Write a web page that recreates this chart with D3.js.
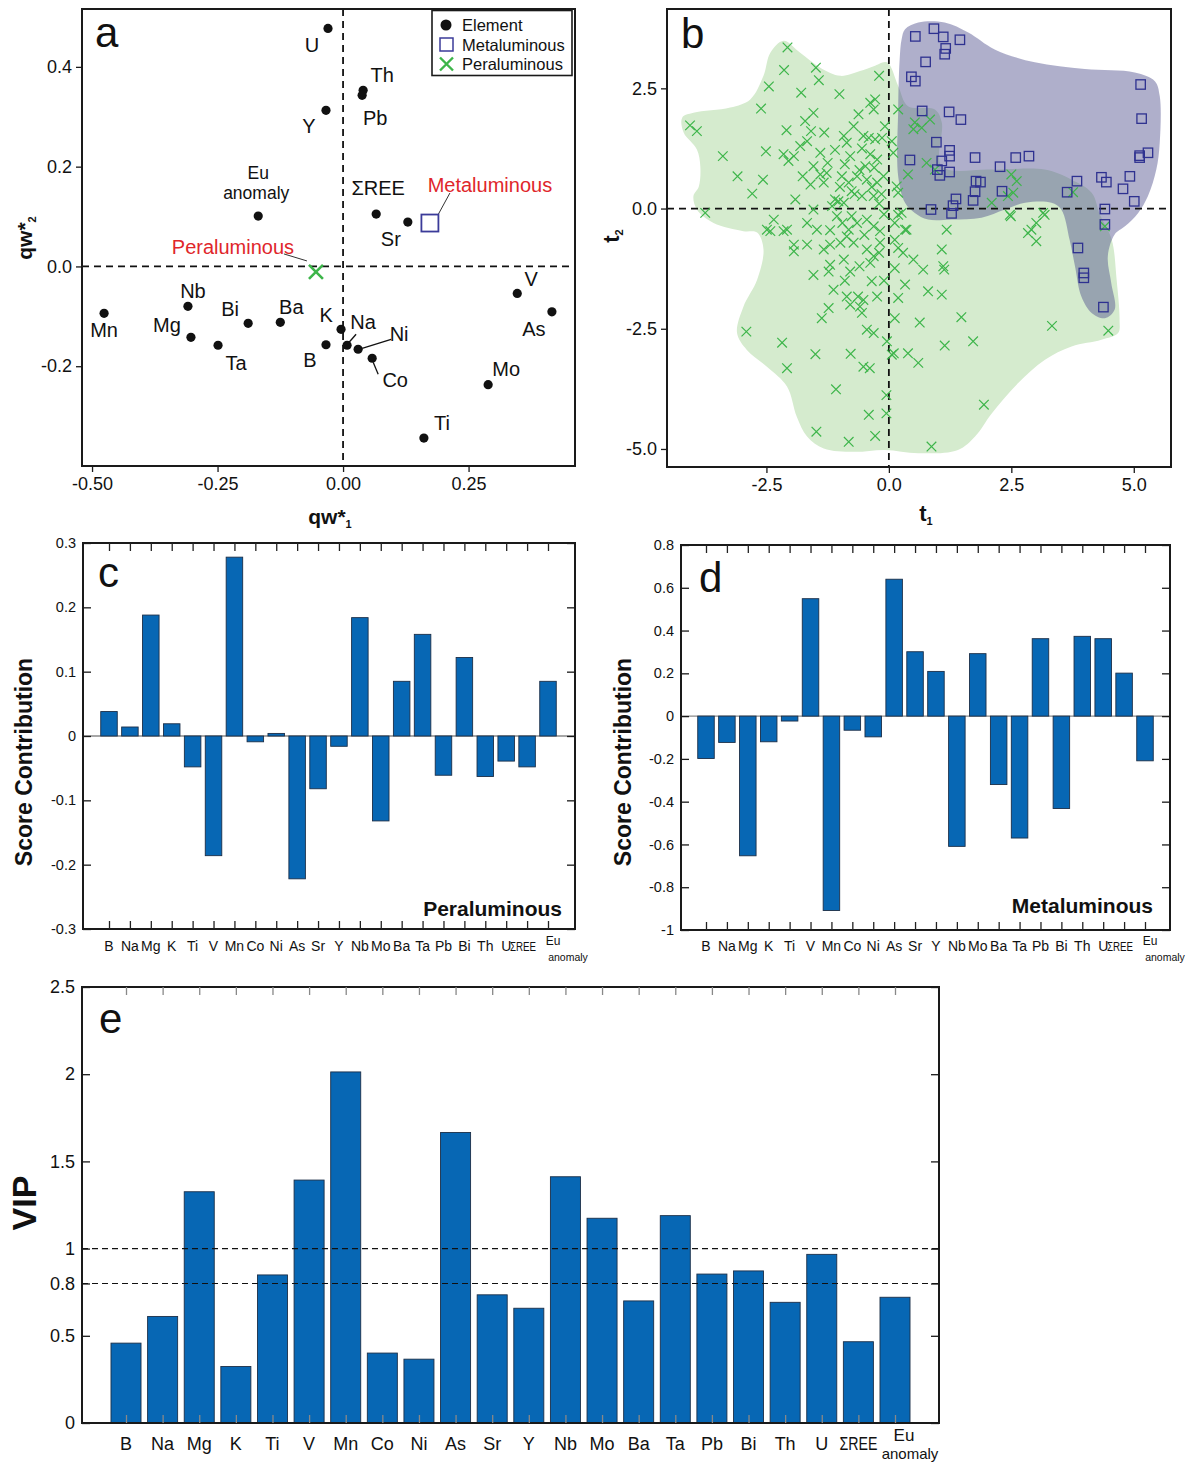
<!DOCTYPE html>
<html><head><meta charset="utf-8">
<script src="https://cdn.jsdelivr.net/npm/d3@7"></script>
<style>body{margin:0;background:#fff}svg{display:block}text{font-family:"Liberation Sans",Arial,Helvetica,sans-serif}</style>
</head><body><svg id="chart" width="1193" height="1462"></svg>
<script>
// ---------------- DATA ----------------
const elements = ["B","Na","Mg","K","Ti","V","Mn","Co","Ni","As","Sr","Y","Nb","Mo","Ba","Ta","Pb","Bi","Th","U","ΣREE","Eu anomaly"];
const peraluminousContribution = [0.038,0.014,0.188,0.019,-0.048,-0.186,0.278,-0.009,0.004,-0.222,-0.082,-0.016,0.184,-0.132,0.085,0.158,-0.061,0.122,-0.063,-0.039,-0.048,0.085];
const metaluminousContribution = [-0.198,-0.123,-0.653,-0.12,-0.023,0.549,-0.909,-0.066,-0.097,0.64,0.301,0.209,-0.609,0.292,-0.32,-0.57,0.362,-0.432,0.373,0.362,0.201,-0.209];
const vipValues = [0.458,0.611,1.326,0.324,0.849,1.393,2.013,0.401,0.366,1.666,0.735,0.658,1.412,1.174,0.70,1.189,0.854,0.872,0.692,0.967,0.466,0.721];
const vipThresholds = [1, 0.8];

// panel a: loadings
const loadingNames = ["U","Th","Pb","Y","Eu anomaly","ΣREE","Sr","V","As","Mn","Nb","Mg","Bi","Ba","K","Ta","B","Na","Ni","Co","Mo","Ti"];
const loadingQw1 = [-0.030,0.040,0.038,-0.034,-0.169,0.066,0.129,0.347,0.416,-0.476,-0.309,-0.303,-0.189,-0.125,-0.004,-0.249,-0.034,0.008,0.030,0.058,0.289,0.161];
const loadingQw2 = [0.477,0.353,0.343,0.313,0.101,0.105,0.089,-0.054,-0.091,-0.094,-0.080,-0.142,-0.114,-0.112,-0.126,-0.158,-0.157,-0.158,-0.166,-0.184,-0.237,-0.344];
const groupNames = ["Metaluminous","Peraluminous"];
const groupQw1 = [0.173,-0.054];
const groupQw2 = [0.087,-0.011];

// tick values / labels
const aXTicks = [-0.5,-0.25,0,0.25], aXTickLabels = ["-0.50","-0.25","0.00","0.25"];
const aYTicks = [0.4,0.2,0,-0.2], aYTickLabels = ["0.4","0.2","0.0","-0.2"];
const bXTicks = [-2.5,0,2.5,5], bXTickLabels = ["-2.5","0.0","2.5","5.0"];
const bYTicks = [2.5,0,-2.5,-5], bYTickLabels = ["2.5","0.0","-2.5","-5.0"];
const cYTicks = [0.3,0.2,0.1,0,-0.1,-0.2,-0.3], cYTickLabels = ["0.3","0.2","0.1","0","-0.1","-0.2","-0.3"];
const dYTicks = [0.8,0.6,0.4,0.2,0,-0.2,-0.4,-0.6,-0.8,-1], dYTickLabels = ["0.8","0.6","0.4","0.2","0","-0.2","-0.4","-0.6","-0.8","-1"];
const eYTicks = [0,0.5,0.8,1,1.5,2,2.5], eYTickLabels = ["0","0.5","0.8","1","1.5","2","2.5"];

// panel b: scores (t1, t2)
const peraluminousScores = [
[-2.07,3.35],[-2.14,2.88],[-1.49,2.93],[-1.43,2.67],[-2.45,2.54],[-1.79,2.41],[-1.01,2.38],[-0.20,2.76],[-2.61,2.08],[-4.06,1.73],[-3.92,1.61],[-3.39,1.09],[-3.09,0.67],[-2.79,0.31],[-3.75,-0.09],[-2.09,1.63],[-2.51,1.19],[-2.57,0.60],[-1.91,0.19],[-1.54,1.99],[-1.71,1.82],[-1.59,1.61],[-1.32,1.58],[-1.67,1.40],[-1.81,1.30],[-2.15,1.13],[-2.05,0.99],[-1.94,1.09],[-1.40,1.16],[-1.54,0.88],[-1.76,0.67],[-1.40,0.71],[-1.27,0.74],[-1.33,0.54],[-0.92,1.51],[-0.86,1.37],[-0.62,1.96],[-0.72,1.71],[-0.38,2.20],[-0.28,2.27],[-0.31,2.06],[-0.08,1.71],[-0.52,1.51],[-0.41,1.47],[-0.28,1.44],[-0.14,1.47],[-0.38,1.13],[-0.24,1.02],[-0.48,0.88],[-0.79,1.09],[-0.96,0.67],[-0.82,0.54],[-0.65,0.67],[-0.45,0.60],[-0.24,0.54],[-0.11,0.67],[-1.10,0.19],[-1.03,0.15],[-0.92,0.12],[-1.16,0.05],[-0.76,0.36],[-0.55,0.26],[-0.31,0.26],[-1.54,-0.02],[-2.35,-0.23],[-2.49,-0.44],[-2.08,-0.44],[-1.67,-0.30],[-1.47,-0.44],[-0.76,-0.16],[-0.65,-0.30],[-0.45,-0.23],[-0.31,-0.37],[-0.82,-0.44],[-0.18,-0.47],[-1.06,-0.16],
[0.19,2.06],[0.53,1.79],[0.67,1.68],[0.84,1.85],[0.50,1.65],[0.06,1.40],[0.09,1.16],[0.77,0.95],[0.94,0.81],[0.39,0.71],[0.16,0.46],[0.19,0.33],[0.26,-0.09],[0.12,-0.30],[0.36,-0.44],[1.18,-0.44],[2.50,0.71],[2.61,0.57],[2.54,0.33],[2.43,0.26],[2.10,0.12],[2.47,-0.13],[3.15,-0.09],[3.01,-0.30],[2.91,-0.44],[3.76,0.34],[4.41,-0.37],
[0.19,-0.13],[0.33,-0.44],[0.12,-0.65],[0.19,-0.82],[0.29,-0.92],[0.50,-1.06],[0.70,-1.27],[1.08,-0.85],[1.11,-1.20],[1.13,-1.27],[0.12,-1.24],[0.33,-1.58],[0.80,-1.72],[1.08,-1.79],[0.19,-1.86],[0.12,-2.28],[0.63,-2.37],[1.48,-2.26],[1.14,-2.85],[1.72,-2.76],[0.39,-3.01],[0.60,-3.21],[0.06,-3.04],[1.94,-4.08],[0.87,-4.95],[2.49,-0.16],[3.01,-0.68],[2.84,-0.51],[3.18,-0.13],[3.33,-2.44],[4.48,-2.54],[-0.05,-3.88],[-0.05,-4.26],
[-2.42,-0.47],[-2.15,-0.47],[-1.94,-0.75],[-1.94,-0.89],[-1.67,-0.75],[-1.54,-1.38],[-1.33,-0.85],[-1.20,-0.75],[-0.99,-0.71],[-0.86,-0.58],[-0.72,-0.71],[-0.45,-0.85],[-0.31,-0.99],[-0.38,-1.13],[-0.18,-0.71],[-1.20,-1.17],[-0.92,-1.06],[-0.79,-1.31],[-1.23,-1.31],[-1.13,-1.69],[-0.35,-1.51],[-0.63,-1.83],[-0.52,-1.90],[-0.24,-1.83],[-0.86,-1.83],[-0.79,-2.00],[-0.59,-2.04],[-0.55,-2.17],[-1.23,-2.07],[-1.37,-2.28],[-0.45,-2.52],[-0.31,-2.59],[-0.04,-2.76],[0.10,-3.01],[-2.91,-2.56],[-2.18,-2.79],[-1.50,-3.03],[-0.78,-3.02],[-0.52,-3.29],[-0.39,-3.32],[-2.08,-3.32],[-1.08,-3.76],[-0.41,-4.29],[-1.48,-4.64],[-0.28,-4.73],[-0.82,-4.85],
[-0.60,0.80],[-0.90,0.92],[-1.10,1.22],[-0.70,0.30],[-0.20,0.10],[-0.10,-0.12],[-1.20,-0.45],[-0.50,-0.55],[-0.20,-0.92],[-1.00,0.45],[-0.30,0.85],[-0.60,-1.20],[-0.10,-1.50],[-0.90,-1.50],[-1.60,0.50],[-0.55,1.25],[-1.25,0.95],[-0.35,0.45],[-0.95,-0.30],[-0.15,0.30]
];
const metaluminousScores = [
[0.54,3.58],[0.92,3.74],[1.11,3.57],[1.45,3.51],[1.16,3.33],[1.14,3.21],[0.75,3.05],[0.46,2.74],[0.54,2.65],[5.14,2.58],[0.68,2.03],[1.23,2.01],[1.47,1.85],[5.16,1.87],[0.97,1.38],[1.24,1.21],[1.24,1.09],[0.43,1.01],[1.08,0.99],[1.76,1.06],[2.59,1.06],[2.86,1.09],[2.27,0.87],[0.99,0.81],[1.04,0.69],[1.24,0.76],[5.12,1.10],[5.29,1.16],[5.12,1.06],[1.78,0.57],[1.87,0.55],[1.76,0.35],[2.31,0.36],[1.72,0.17],[1.37,0.20],[1.31,0.06],[1.28,-0.10],[0.86,-0.02],[3.84,0.57],[3.64,0.34],[4.34,0.65],[4.44,0.55],[4.92,0.67],[4.78,0.41],[5.01,0.15],[4.41,-0.01],[4.41,-0.33],[3.86,-0.82],[3.98,-1.34],[3.98,-1.44],[4.38,-2.05]
];
const peraluminousHull = [[-2.15,3.49],[-1.81,3.24],[-1.40,2.93],[-0.99,2.76],[-0.59,2.86],[-0.31,2.96],[-0.04,3.04],[0.19,2.55],[0.39,2.13],[0.94,2.06],[1.08,1.79],[1.08,0.88],[2.06,0.81],[3.18,0.81],[3.73,0.60],[4.14,0.33],[4.31,-0.13],[4.55,-0.65],[4.65,-1.48],[4.71,-2.31],[4.68,-2.59],[4.34,-2.73],[3.73,-2.87],[3.18,-3.15],[2.64,-3.63],[2.10,-4.26],[1.76,-4.74],[1.41,-5.02],[0.60,-5.09],[-0.08,-5.02],[-0.72,-5.06],[-1.33,-4.99],[-1.67,-4.74],[-1.88,-4.33],[-2.08,-3.70],[-2.49,-3.29],[-2.90,-2.94],[-3.10,-2.59],[-2.97,-2.04],[-2.69,-1.48],[-2.56,-0.85],[-2.69,-0.50],[-2.97,-0.47],[-3.58,-0.30],[-3.92,-0.02],[-3.99,0.26],[-3.88,0.46],[-3.85,0.88],[-3.92,1.23],[-4.19,1.58],[-4.22,1.89],[-3.99,1.99],[-3.24,2.10],[-2.83,2.27],[-2.56,2.76],[-2.42,3.24]];
const metaluminousHull = [[0.33,3.73],[0.60,3.87],[1.14,3.87],[1.62,3.66],[2.16,3.31],[2.98,3.04],[4.00,2.90],[5.02,2.83],[5.43,2.65],[5.53,2.34],[5.53,1.37],[5.46,0.81],[5.29,0.26],[5.09,-0.09],[4.82,-0.37],[4.61,-0.54],[4.47,-0.99],[4.54,-1.55],[4.61,-2.10],[4.41,-2.28],[4.14,-2.17],[3.93,-1.83],[3.80,-1.20],[3.69,-0.65],[3.52,-0.02],[3.32,0.12],[2.78,0.12],[2.37,-0.02],[1.89,-0.19],[1.28,-0.23],[0.80,-0.23],[0.53,-0.09],[0.33,0.12],[0.19,0.67],[0.19,2.06],[0.22,3.10],[0.26,3.52]];

// ---------------- LAYOUT / STYLE ----------------
const FRAME = "#1a1a1a";
const BAR_FILL = "#0767b4", BAR_STROKE = "#1c2f48";
const GREEN = "#3db54a", NAVY = "#2e3190", RED = "#e0262b";
const labelLayout = { // dx, dy (px) of label centre from the point
  "U":[-16,17],"Th":[19,-15],"Pb":[13,23],"Y":[-17,16],"ΣREE":[2,-26],"Sr":[-17,17],"V":[14,-14],"As":[-18,17],
  "Mn":[0,17],"Nb":[5,-15],"Mg":[-24,-12],"Bi":[-18,-14],"Ba":[11,-15],"K":[-15,-14],"Ta":[18,18],"B":[-16,15],
  "Na":[16,-23],"Ni":[41,-15],"Co":[23,22],"Mo":[18,-16],"Ti":[18,-15]
};
const leaderLayout = {"Na":[2,-3,9,-11],"Ni":[4,-1,33,-10],"Co":[1,4,6,16]};
const groupLabelLayout = {"Metaluminous":{lx:60,ly:-38,line:[20,-30,8,-8]},"Peraluminous":{lx:-83,ly:-25,line:[-32,-18,-9,-11]}};

const svg = d3.select("#chart");
svg.append("rect").attr("width",1193).attr("height",1462).attr("fill","#fff");

function frameRect(g,L,R,T,B){
  g.append("rect").attr("x",L).attr("y",T).attr("width",R-L).attr("height",B-T)
   .attr("fill","none").attr("stroke",FRAME).attr("stroke-width",2);
}
function styleAxis(sel,fs){
  sel.select(".domain").remove();
  sel.selectAll(".tick line").attr("stroke",FRAME).attr("stroke-width",1.3);
  sel.selectAll(".tick text").attr("fill","#111").attr("font-size",fs).attr("font-family",'"Liberation Sans",Arial,sans-serif');
}
function panelLetter(x,y,t){
  svg.append("text").attr("x",x).attr("y",y).attr("font-size",42).attr("fill","#111").text(t);
}
function markX(g,cx,cy,r,color,w){
  g.append("path").attr("d",`M${cx-r},${cy-r}L${cx+r},${cy+r}M${cx-r},${cy+r}L${cx+r},${cy-r}`)
   .attr("stroke",color).attr("stroke-width",w).attr("fill","none");
}

// ---------------- PANEL A ----------------
(function(){
  const L=82,R=575,T=9,B=466;
  const g=svg.append("g");
  const x=d3.scaleLinear().domain([-0.52,0.462]).range([L,R]);
  const y=d3.scaleLinear().domain([-0.40,0.516]).range([B,T]);
  g.append("line").attr("x1",x(0)).attr("x2",x(0)).attr("y1",T).attr("y2",B).attr("stroke","#111").attr("stroke-width",1.8).attr("stroke-dasharray","7,5");
  g.append("line").attr("x1",L).attr("x2",R).attr("y1",y(0)).attr("y2",y(0)).attr("stroke","#111").attr("stroke-width",1.8).attr("stroke-dasharray","7,5");
  frameRect(g,L,R,T,B);
  const ax=g.append("g").attr("transform",`translate(0,${B})`).call(d3.axisBottom(x).tickValues(aXTicks).tickSize(6).tickPadding(5).tickFormat((d,i)=>aXTickLabels[i]));
  styleAxis(ax,18);
  const ay=g.append("g").attr("transform",`translate(${L},0)`).call(d3.axisLeft(y).tickValues(aYTicks).tickSize(6).tickPadding(4).tickFormat((d,i)=>aYTickLabels[i]));
  styleAxis(ay,18);
  // points
  loadingNames.forEach((n,i)=>{
    const px=x(loadingQw1[i]), py=y(loadingQw2[i]);
    g.append("circle").attr("cx",px).attr("cy",py).attr("r",4.6).attr("fill","#111");
    if(n==="Eu anomaly"){
      g.append("text").attr("x",px).attr("y",py-43).attr("dy","0.35em").attr("text-anchor","middle").attr("font-size",17.5).attr("fill","#111").text("Eu");
      g.append("text").attr("x",px-2).attr("y",py-23).attr("dy","0.35em").attr("text-anchor","middle").attr("font-size",17.5).attr("fill","#111").text("anomaly");
    } else {
      const o=labelLayout[n];
      g.append("text").attr("x",px+o[0]).attr("y",py+o[1]).attr("dy","0.35em").attr("text-anchor","middle").attr("font-size",20).attr("fill","#111").text(n);
    }
    if(leaderLayout[n]){
      const l=leaderLayout[n];
      g.append("line").attr("x1",px+l[0]).attr("y1",py+l[1]).attr("x2",px+l[2]).attr("y2",py+l[3]).attr("stroke","#111").attr("stroke-width",1.3);
    }
  });
  // groups
  groupNames.forEach((n,i)=>{
    const px=x(groupQw1[i]), py=y(groupQw2[i]);
    const gl=groupLabelLayout[n];
    g.append("line").attr("x1",px+gl.line[0]).attr("y1",py+gl.line[1]).attr("x2",px+gl.line[2]).attr("y2",py+gl.line[3]).attr("stroke","#333").attr("stroke-width",1);
    if(n==="Metaluminous") g.append("rect").attr("x",px-8.5).attr("y",py-8.5).attr("width",17).attr("height",17).attr("fill","none").attr("stroke","#3b3b99").attr("stroke-width",1.8);
    else markX(g,px,py,7,GREEN,2.6);
    g.append("text").attr("x",px+gl.lx).attr("y",py+gl.ly).attr("dy","0.35em").attr("text-anchor","middle").attr("font-size",20).attr("fill",RED).text(n);
  });
  // legend
  const lg=g.append("g");
  lg.append("rect").attr("x",432).attr("y",10.5).attr("width",140).attr("height",65).attr("fill","#fff").attr("stroke",FRAME).attr("stroke-width",1.6);
  lg.append("circle").attr("cx",446).attr("cy",25).attr("r",5.5).attr("fill","#111");
  lg.append("rect").attr("x",440).attr("y",38).attr("width",13).attr("height",13).attr("fill","none").attr("stroke","#3b3b99").attr("stroke-width",1.5);
  markX(lg,446.5,64,6.5,GREEN,2.4);
  ["Element","Metaluminous","Peraluminous"].forEach((t,i)=>{
    lg.append("text").attr("x",462).attr("y",[25,45,64][i]).attr("dy","0.35em").attr("font-size",16.5).attr("fill","#111").text(t);
  });
  // axis titles
  const xt=g.append("text").attr("x",330).attr("y",524).attr("text-anchor","middle").attr("font-size",21).attr("font-weight","bold").attr("fill","#111");
  xt.append("tspan").text("qw*");
  xt.append("tspan").attr("font-size",11).attr("dy",4).text("1");
  const yt=g.append("text").attr("transform","translate(32,238) rotate(-90)").attr("text-anchor","middle").attr("font-size",21).attr("font-weight","bold").attr("fill","#111");
  yt.append("tspan").text("qw*");
  yt.append("tspan").attr("font-size",11).attr("dy",4).text("2");
  panelLetter(95,47,"a");
})();

// ---------------- PANEL B ----------------
(function(){
  const L=667,R=1171,T=9,B=467;
  const g=svg.append("g");
  const x=d3.scaleLinear().domain([-4.53,5.76]).range([L,R]);
  const y=d3.scaleLinear().domain([-5.375,4.15]).range([B,T]);
  const line=d3.line().x(d=>x(d[0])).y(d=>y(d[1])).curve(d3.curveCatmullRomClosed.alpha(0.5));
  g.append("path").attr("d",line(peraluminousHull)).attr("fill","#d5ebce");
  g.append("path").attr("d",line(metaluminousHull)).attr("fill","#4d4d8c").attr("fill-opacity",0.45);
  g.append("line").attr("x1",x(0)).attr("x2",x(0)).attr("y1",T).attr("y2",B).attr("stroke","#111").attr("stroke-width",1.8).attr("stroke-dasharray","7,5");
  g.append("line").attr("x1",L).attr("x2",R).attr("y1",y(0)).attr("y2",y(0)).attr("stroke","#111").attr("stroke-width",1.8).attr("stroke-dasharray","7,5");
  peraluminousScores.forEach(d=>markX(g,x(d[0]),y(d[1]),4.8,GREEN,1.2));
  metaluminousScores.forEach(d=>g.append("rect").attr("x",x(d[0])-4.7).attr("y",y(d[1])-4.7).attr("width",9.4).attr("height",9.4).attr("fill","none").attr("stroke",NAVY).attr("stroke-width",1.3));
  frameRect(g,L,R,T,B);
  const ax=g.append("g").attr("transform",`translate(0,${B})`).call(d3.axisBottom(x).tickValues(bXTicks).tickSize(6).tickPadding(5).tickFormat((d,i)=>bXTickLabels[i]));
  styleAxis(ax,18);
  const ay=g.append("g").attr("transform",`translate(${L},0)`).call(d3.axisLeft(y).tickValues(bYTicks).tickSize(6).tickPadding(4).tickFormat((d,i)=>bYTickLabels[i]));
  styleAxis(ay,18);
  const xt=g.append("text").attr("x",926).attr("y",521).attr("text-anchor","middle").attr("font-size",22).attr("font-weight","bold").attr("fill","#111");
  xt.append("tspan").text("t");
  xt.append("tspan").attr("font-size",11).attr("dy",4).text("1");
  const yt=g.append("text").attr("transform","translate(619,236) rotate(-90)").attr("text-anchor","middle").attr("font-size",22).attr("font-weight","bold").attr("fill","#111");
  yt.append("tspan").text("t");
  yt.append("tspan").attr("font-size",11).attr("dy",4).text("2");
  panelLetter(681,48,"b");
})();

// ---------------- BAR PANELS ----------------
function barPanel(o){
  const g=svg.append("g");
  const x=d3.scalePoint().domain(elements).range([o.x0,o.x1]);
  const y=d3.scaleLinear().domain(o.domain).range([o.B,o.T]);
  const bw=x.step()*o.bw;
  if(o.zeroLine) g.append("line").attr("x1",o.L).attr("x2",o.R).attr("y1",y(0)).attr("y2",y(0)).attr("stroke","#8a8a8a").attr("stroke-width",1.3);
  g.selectAll("rect.bar").data(o.values).join("rect").attr("class","bar")
    .attr("x",(d,i)=>x(elements[i])-bw/2).attr("y",d=>y(Math.max(0,d)))
    .attr("width",bw).attr("height",d=>Math.abs(y(d)-y(0)))
    .attr("fill",BAR_FILL).attr("stroke",BAR_STROKE).attr("stroke-width",0.9);
  (o.refs||[]).forEach(v=>g.append("line").attr("x1",o.L).attr("x2",o.R).attr("y1",y(v)).attr("y2",y(v)).attr("stroke","#111").attr("stroke-width",1.2).attr("stroke-dasharray","6,4"));
  frameRect(g,o.L,o.R,o.T,o.B);
  const ay=g.append("g").attr("transform",`translate(${o.L},0)`).call(d3.axisLeft(y).tickValues(o.ticks).tickSize(-8).tickPadding(7).tickFormat((d,i)=>o.tickLabels[i]));
  styleAxis(ay,o.tickFs);
  const ar=g.append("g").attr("transform",`translate(${o.R},0)`).call(d3.axisRight(y).tickValues(o.ticks).tickSize(-8).tickFormat(""));
  styleAxis(ar,o.tickFs);
  const at=g.append("g").attr("transform",`translate(0,${o.T})`).call(d3.axisTop(x).tickSize(-8).tickFormat(""));
  styleAxis(at,o.tickFs); at.selectAll(".tick line").attr("stroke",o.topTickColor);
  const ab=g.append("g").attr("transform",`translate(0,${o.B})`).call(d3.axisBottom(x).tickSize(-8).tickFormat(""));
  styleAxis(ab,o.tickFs); ab.selectAll(".tick line").attr("stroke",o.topTickColor);
  elements.forEach(e=>{
    const cx=x(e);
    if(e==="Eu anomaly"){
      g.append("text").attr("x",cx+o.euDx).attr("y",o.labelY-o.euUp).attr("text-anchor","middle").attr("font-size",o.euFs).attr("fill","#111").text("Eu");
      g.append("text").attr("x",cx+o.anomDx).attr("y",o.labelY+o.anomDown).attr("text-anchor","middle").attr("font-size",o.anomFs).attr("fill","#111").text("anomaly");
    } else if(e==="ΣREE"){
      g.append("text").attr("x",cx+o.sreeDx).attr("y",o.labelY).attr("text-anchor","middle").attr("font-size",o.sreeFs).attr("fill","#111")
       .attr("textLength",o.sreeW).attr("lengthAdjust","spacingAndGlyphs").text(e);
    } else {
      g.append("text").attr("x",cx).attr("y",o.labelY).attr("text-anchor","middle").attr("font-size",o.labelFs).attr("fill","#111").text(e);
    }
  });
  if(o.ytitle){
    g.append("text").attr("transform",`translate(${o.ytitle.x},${o.ytitle.y}) rotate(-90)`).attr("text-anchor","middle")
     .attr("font-size",o.ytitle.fs).attr("font-weight","bold").attr("fill","#111").text(o.ytitle.t);
  }
  if(o.note) g.append("text").attr("x",o.note.x).attr("y",o.note.y).attr("text-anchor","end").attr("font-size",21).attr("font-weight","bold").attr("fill","#111").text(o.note.t);
}

barPanel({L:83,R:575,T:543,B:929,x0:109,x1:548,bw:0.79,domain:[-0.3,0.3],values:peraluminousContribution,
  ticks:cYTicks,tickLabels:cYTickLabels,tickFs:14.5,zeroLine:true,topTickColor:"#222",
  labelY:951,labelFs:14,sreeFs:12,sreeW:26,sreeDx:-4,euFs:12,euDx:5,euUp:6,anomDx:20,anomDown:10,anomFs:10.5,
  ytitle:{x:32,y:762,t:"Score Contribution",fs:23},note:{x:562,y:916,t:"Peraluminous"}});
panelLetter(98,587,"c");

barPanel({L:681,R:1170,T:545,B:930,x0:706,x1:1145,bw:0.79,domain:[-1,0.8],values:metaluminousContribution,
  ticks:dYTicks,tickLabels:dYTickLabels,tickFs:14.5,zeroLine:true,topTickColor:"#222",
  labelY:951,labelFs:14,sreeFs:12,sreeW:26,sreeDx:-4,euFs:12,euDx:5,euUp:6,anomDx:20,anomDown:10,anomFs:10.5,
  ytitle:{x:631,y:762,t:"Score Contribution",fs:23},note:{x:1153,y:913,t:"Metaluminous"}});
panelLetter(699,592,"d");

barPanel({L:82,R:939,T:987,B:1423,x0:126,x1:895,bw:0.82,domain:[0,2.5],values:vipValues,refs:vipThresholds,
  ticks:eYTicks,tickLabels:eYTickLabels,tickFs:18,zeroLine:false,topTickColor:"#888",
  labelY:1450,labelFs:18,sreeFs:18,sreeW:38,sreeDx:0,euFs:17,euDx:9,euUp:9,anomDx:15,anomDown:9,anomFs:15,
  ytitle:{x:36,y:1203,t:"VIP",fs:34}});
panelLetter(99,1033,"e");
</script>
</body></html>
